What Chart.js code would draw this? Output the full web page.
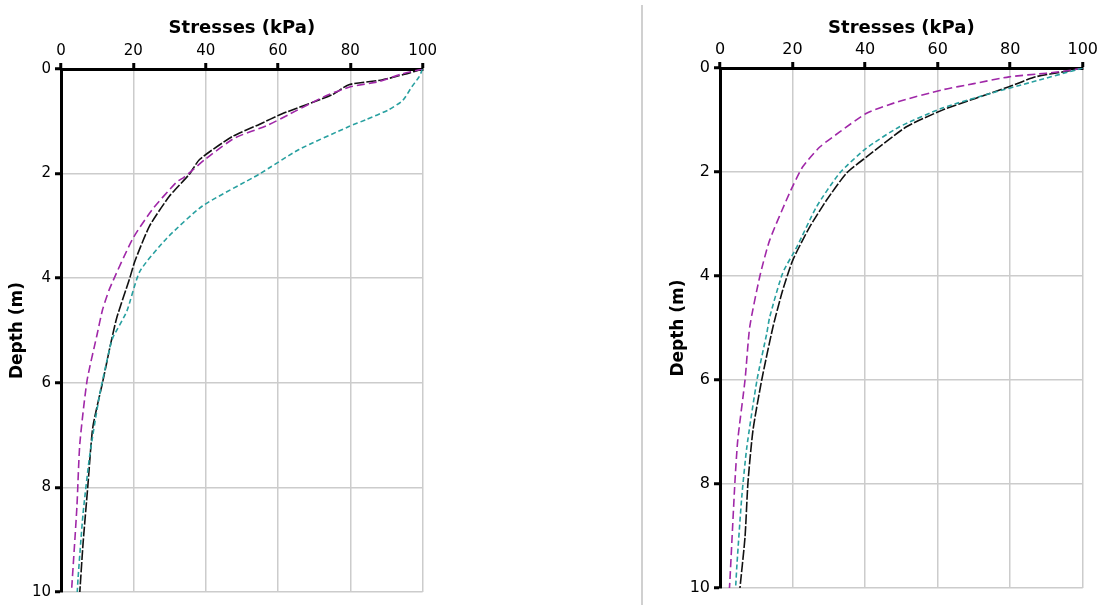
<!DOCTYPE html>
<html>
<head>
<meta charset="utf-8">
<script src="https://cdn.jsdelivr.net/npm/chart.js@4/dist/chart.umd.min.js"></script>
<style>
  html, body { margin: 0; padding: 0; background: #fff; }
  #wrap { position: relative; width: 1101px; height: 605px; overflow: hidden; }
  canvas { position: absolute; top: 0; }
  #left { left: 0; }
  #right { left: 660px; }
  #divider { position: absolute; left: 641px; top: 5px; width: 2px; height: 600px; background: #d0d0d0; }
</style>
</head>
<body>
<div id="wrap">
  <canvas id="left" width="440" height="605"></canvas>
  <div id="divider"></div>
  <canvas id="right" width="441" height="605"></canvas>
</div>
<script>
// axis labels / ticks
const stressTitle = 'Stresses (kPa)';
const depthTitle = 'Depth (m)';
const stressTicks = [0, 20, 40, 60, 80, 100];
const depthTicks = [0, 2, 4, 6, 8, 10];

// left chart (stress kPa, depth m)
const leftBlackStress = [100, 95, 88.7, 79.6, 75, 61, 54.8, 47.4, 38.3, 35.5, 30, 24.5, 20.4, 19, 15.4, 13.5, 11.6, 8.8, 7.4, 6.1, 5.2];
const leftBlackDepth  = [0, 0.1, 0.21, 0.3, 0.49, 0.86, 1.06, 1.29, 1.73, 2.01, 2.43, 3.0, 3.68, 4.0, 4.76, 5.33, 5.96, 6.85, 7.99, 9.07, 10];
const leftPurpleStress = [100, 94, 88, 80, 73, 63, 57, 48, 40, 34, 32, 25.3, 19.8, 13.5, 11.5, 9.9, 7.2, 5.2, 4.4, 3.0, 2.9];
const leftPurpleDepth  = [0, 0.1, 0.24, 0.34, 0.52, 0.87, 1.08, 1.32, 1.72, 2.07, 2.16, 2.68, 3.25, 4.19, 4.6, 5.1, 5.96, 7.17, 8.37, 9.89, 10];
const leftTealStress = [100, 99, 97, 94.5, 90.6, 84.3, 79.6, 65.8, 54.8, 39.1, 29.2, 21.8, 18.2, 14.3, 13.5, 10.7, 8.0, 6.1, 4.7, 4.5];
const leftTealDepth  = [0, 0.15, 0.34, 0.6, 0.78, 0.97, 1.1, 1.54, 2.01, 2.62, 3.24, 3.87, 4.63, 5.14, 5.33, 6.22, 7.36, 8.5, 9.75, 10];

// right chart
const rightBlackStress = [100, 95, 87, 79.7, 70.6, 61.3, 51.4, 40.4, 34.9, 29.4, 24.7, 20.1, 17.3, 14.6, 11.5, 9.1, 7.7, 6.9, 5.5];
const rightBlackDepth  = [0, 0.07, 0.17, 0.36, 0.58, 0.81, 1.13, 1.71, 2.02, 2.54, 3.06, 3.69, 4.27, 4.98, 6.0, 6.96, 7.98, 9.02, 10];
const rightPurpleStress = [100, 97, 90, 79.7, 70, 61.3, 49, 40.4, 33, 27.5, 22.8, 19.2, 13.7, 11, 8.2, 6.9, 4.9, 4.1, 2.7, 2.6];
const rightPurpleDepth  = [0, 0.04, 0.1, 0.17, 0.3, 0.42, 0.65, 0.87, 1.23, 1.52, 1.9, 2.4, 3.31, 4.0, 4.98, 6.0, 7.15, 7.98, 9.9, 10];
const rightTealStress = [100, 98, 86, 75, 61.3, 49.5, 40.4, 33, 26.6, 21.2, 17.3, 13.7, 12.9, 10.2, 7.4, 6.0, 4.7, 4.3];
const rightTealDepth  = [0, 0.04, 0.27, 0.48, 0.77, 1.13, 1.54, 2.02, 2.67, 3.44, 3.94, 4.79, 5.1, 6.0, 7.29, 8.25, 9.52, 10];

const BLACK = '#111111';
const PURPLE = '#a028a8';
const TEAL = '#28a0a0';

function pts(xs, ys) {
  return xs.map((x, i) => ({ x: x, y: ys[i] }));
}

function line(xs, ys, color, dash) {
  return {
    data: pts(xs, ys),
    borderColor: color,
    borderWidth: 1.6,
    borderDash: dash,
    pointRadius: 0,
    showLine: true,
    tension: 0.2,
    fill: false
  };
}

function makeChart(id, datasets, o) {
  return new Chart(document.getElementById(id), {
    type: 'scatter',
    data: { datasets: datasets },
    options: {
      responsive: false,
      animation: false,
      layout: { padding: { top: 0, left: 0, right: o.padRight, bottom: o.padBottom } },
      plugins: { legend: { display: false }, tooltip: { enabled: false } },
      scales: {
        x: {
          type: 'linear',
          position: 'top',
          min: stressTicks[0],
          max: stressTicks[stressTicks.length - 1],
          afterFit: s => { s.height = o.top; },
          ticks: { stepSize: 20, color: '#000', padding: 3, font: { family: 'DejaVu Sans', size: o.tickSize } },
          grid: { color: '#cccccc', lineWidth: 1.5, tickColor: '#000', tickLength: 6, tickWidth: 3 },
          border: { color: '#000', width: 3 },
          title: { display: true, text: stressTitle, color: '#000', padding: { top: 18, bottom: 0 },
                   font: { family: 'DejaVu Sans', size: 18, weight: 'bold' } }
        },
        y: {
          type: 'linear',
          reverse: true,
          min: depthTicks[0],
          max: depthTicks[depthTicks.length - 1],
          afterFit: s => { s.width = o.left; },
          ticks: { stepSize: 2, color: '#000', padding: 4, font: { family: 'DejaVu Sans', size: o.tickSize } },
          grid: { color: '#cccccc', lineWidth: 1.5, tickColor: '#000', tickLength: 6, tickWidth: 3 },
          border: { color: '#000', width: 3 },
          title: { display: true, text: depthTitle, color: '#000', padding: { top: o.ytPad, bottom: 0 },
                   font: { family: 'DejaVu Sans', size: 17, weight: 'bold' } }
        }
      }
    }
  });
}

makeChart('left', [
  line(leftTealStress, leftTealDepth, TEAL, [5, 3]),
  line(leftPurpleStress, leftPurpleDepth, PURPLE, [8, 4]),
  line(leftBlackStress, leftBlackDepth, BLACK, [10, 2])
], { left: 61, top: 69, padRight: 16, padBottom: 9, tickSize: 15, ytPad: 7 });

makeChart('right', [
  line(rightTealStress, rightTealDepth, TEAL, [5, 3]),
  line(rightPurpleStress, rightPurpleDepth, PURPLE, [8, 4]),
  line(rightBlackStress, rightBlackDepth, BLACK, [10, 2])
], { left: 60, top: 68, padRight: 17, padBottom: 17, tickSize: 16, ytPad: 8 });
</script>
</body>
</html>
